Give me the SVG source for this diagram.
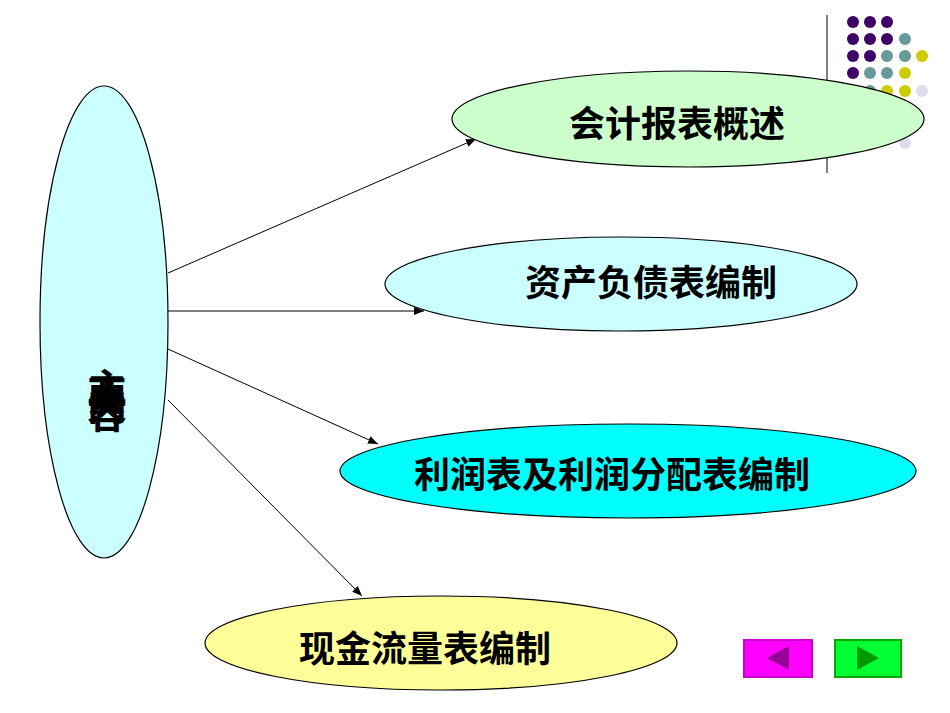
<svg xmlns="http://www.w3.org/2000/svg" width="950" height="713" viewBox="0 0 950 713">
<style>
.n{stroke:#000;stroke-width:1.2}
.t{font-family:"Liberation Sans","Noto Sans CJK SC",sans-serif;font-size:36px;font-weight:bold;text-anchor:middle;fill:#000}
.c line{stroke:#000;stroke-width:1;marker-end:url(#a)}
.p{fill:#3d0066}.g{fill:#669999}.y{fill:#cccc00}.l{fill:#ddddee}
</style>
<defs><marker id="a" markerWidth="10" markerHeight="8" refX="10" refY="4" orient="auto" markerUnits="userSpaceOnUse"><path d="M0,0L10,4L0,8z" fill="#000"/></marker></defs>
<rect width="950" height="713" fill="#fff"/>
<g id="deco">
<line x1="827" y1="15" x2="827" y2="173" stroke="#000" stroke-width="1"/>
<circle class="p" cx="853" cy="22" r="6"/><circle class="p" cx="870" cy="22" r="6"/><circle class="p" cx="887" cy="22" r="6"/>
<circle class="p" cx="853" cy="39" r="6"/><circle class="p" cx="870" cy="39" r="6"/><circle class="p" cx="887" cy="39" r="6"/><circle class="g" cx="905" cy="39" r="6"/>
<circle class="p" cx="853" cy="56" r="6"/><circle class="p" cx="870" cy="56" r="6"/><circle class="g" cx="887" cy="56" r="6"/><circle class="g" cx="905" cy="56" r="6"/><circle class="y" cx="922" cy="56" r="6"/>
<circle class="p" cx="853" cy="73" r="6"/><circle class="g" cx="870" cy="73" r="6"/><circle class="g" cx="887" cy="73" r="6"/><circle class="y" cx="905" cy="73" r="6"/>
<circle class="g" cx="870" cy="91" r="6"/><circle class="y" cx="887" cy="91" r="6"/><circle class="y" cx="905" cy="91" r="6"/><circle class="l" cx="922" cy="91" r="6"/>
<circle class="l" cx="905" cy="143" r="6"/>
</g>
<g class="c" id="connectors">
<line x1="168" y1="273" x2="476" y2="139"/>
<line x1="168" y1="311" x2="424" y2="311"/>
<line x1="168" y1="349" x2="378" y2="444"/>
<line x1="168" y1="400" x2="362" y2="596"/>
</g>
<g id="main"><ellipse class="n" cx="104" cy="322" rx="64" ry="236" fill="#ccffff"/>
<g class="t" style="font-size:40px"><text x="107" y="403">主</text><text x="107" y="411">要</text><text x="107" y="420">内</text><text x="107" y="428">容</text></g></g>
<g id="n1"><ellipse class="n" cx="688" cy="119" rx="236" ry="48" fill="#ccffcc"/><text class="t" x="677" y="137">会计报表概述</text></g>
<g id="n2"><ellipse class="n" cx="621" cy="284" rx="236" ry="47" fill="#ccffff"/><text class="t" x="651" y="296">资产负债表编制</text></g>
<g id="n3"><ellipse class="n" cx="628" cy="471" rx="288" ry="47" fill="#00ffff"/><text class="t" x="612" y="488">利润表及利润分配表编制</text></g>
<g id="n4"><ellipse class="n" cx="441" cy="643" rx="236" ry="47" fill="#ffff99"/><text class="t" x="425" y="662">现金流量表编制</text></g>
<g id="prev"><rect x="744" y="640" width="68" height="37" fill="#ff00ff" stroke="#cc00cc" stroke-width="2"/><path d="M767,658L789,646L789,670z" fill="#990099"/></g>
<g id="next"><rect x="835" y="640" width="66" height="37" fill="#00ff33" stroke="#00aa00" stroke-width="2"/><path d="M879,658L857,646L857,670z" fill="#009900"/></g>
</svg>
